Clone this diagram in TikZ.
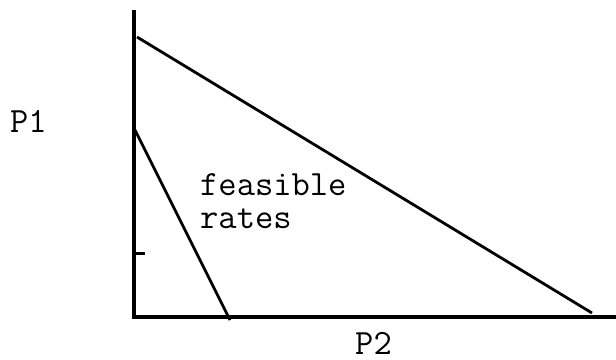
\documentclass[tikz,border=0pt]{standalone}
\usepackage{fontspec}
\begin{document}
\begin{tikzpicture}[x=1pt,y=-1pt,
  axis/.style={line width=3.5pt, line join=miter},
  bound/.style={line width=2.8pt},
  lbl/.style={font=\ttfamily\addfontfeatures{FakeBold=0.6}\fontsize{35.5}{33}\selectfont, inner sep=0pt}]
\useasboundingbox[fill=white] (0,0) rectangle (616,359);
\coordinate (top) at (134,10);
\coordinate (origin) at (134,317);
\coordinate (right) at (616,317);
\coordinate (tick) at (134,253);
\coordinate (tickend) at (145,253);
\coordinate (bigA) at (137,37);
\coordinate (bigB) at (592,313);
\coordinate (smallA) at (135,130);
\coordinate (smallB) at (230,320);
\draw[axis] (top) -- (origin) -- (right);
\draw[axis, line width=3pt] (tick) -- (tickend);
\draw[bound] (bigA) -- (bigB);
\draw[bound] (smallA) -- (smallB);
\node[lbl, anchor=base] (p1) at (28.5,132) {P1};
\node[lbl, anchor=base] (p2) at (373.5,354) {P2};
\node[lbl, anchor=base west, align=left] (feas) at (200,228) {feasible\\rates};
\end{tikzpicture}
\end{document}
